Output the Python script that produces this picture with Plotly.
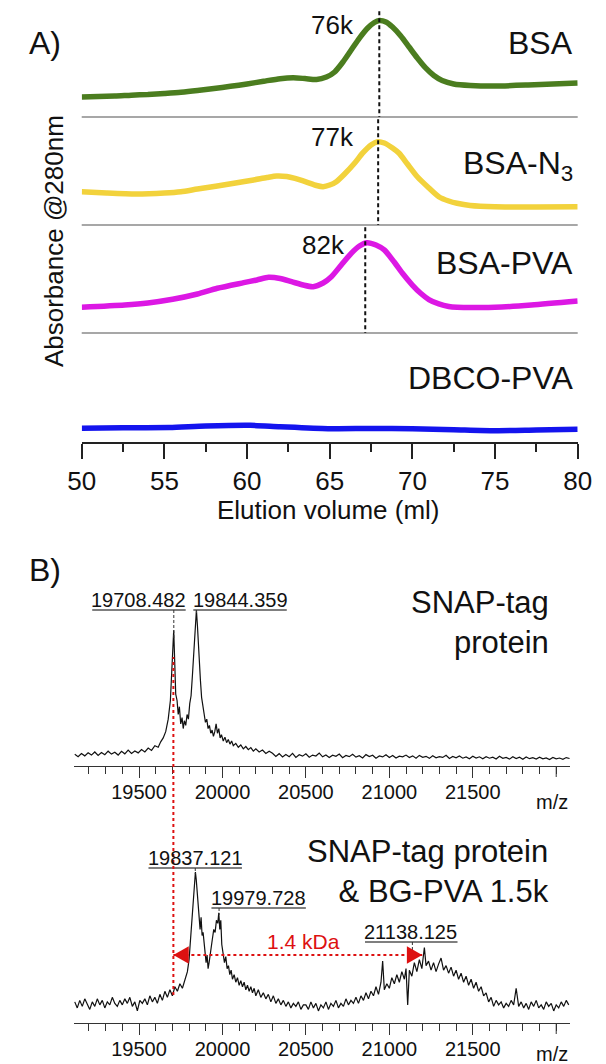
import plotly.graph_objects as go

W, H = 606, 1064
FONT = "Liberation Sans, Arial, sans-serif"

def px(p):
    return p / W

def py(p):
    return 1 - p / H

# ---------------- Panel A: SEC traces (normalised absorbance per band) ----------------
BSA_ML = [50, 51, 52, 53, 54, 55, 56, 57, 58, 59, 60, 61, 62, 62.8, 63.5, 64.2, 64.8, 65.3, 65.8,
          66.3, 66.8, 67.3, 67.7, 68.0, 68.4, 68.8, 69.3, 69.8, 70.3, 70.8, 71.3, 71.8, 72.5,
          73.5, 75, 77, 80]
BSA_ABS = [0.185, 0.190, 0.194, 0.202, 0.208, 0.218, 0.229, 0.245, 0.264, 0.284, 0.306, 0.331,
           0.355, 0.363, 0.356, 0.347, 0.370, 0.417, 0.509, 0.620, 0.731, 0.824, 0.875, 0.894,
           0.880, 0.833, 0.750, 0.648, 0.546, 0.454, 0.384, 0.338, 0.306, 0.292, 0.287, 0.296,
           0.315]

N3_ML = [50, 51.5, 53.3, 55, 56, 57, 58.2, 59.3, 60.4, 61.2, 61.8, 62.4, 62.9, 63.6, 64.2, 64.6,
         65.0, 65.4, 65.9, 66.5, 67.0, 67.5, 67.9, 68.3, 68.8, 69.2, 69.7, 70.3, 71.0, 71.6, 72.2,
         72.7, 73.5, 75, 77.5, 80]
N3_ABS = [0.308, 0.296, 0.287, 0.296, 0.308, 0.333, 0.361, 0.389, 0.417, 0.440, 0.454, 0.449,
          0.432, 0.398, 0.366, 0.355, 0.370, 0.401, 0.472, 0.571, 0.667, 0.741, 0.771, 0.759,
          0.713, 0.664, 0.565, 0.447, 0.343, 0.262, 0.222, 0.201, 0.181, 0.169, 0.167, 0.169]

PVA_ML = [50, 52.6, 54, 55.5, 57, 58.2, 59.8, 60.6, 61.3, 62.0, 62.7, 63.4, 64.0, 64.6, 65.1,
          65.7, 66.3, 66.8, 67.25, 67.8, 68.3, 68.9, 69.4, 70.0, 70.5, 71.0, 71.6, 72.2, 72.7,
          74, 75, 77.2, 80]
PVA_ABS = [0.238, 0.259, 0.278, 0.312, 0.361, 0.414, 0.466, 0.491, 0.516, 0.505, 0.475, 0.444,
           0.429, 0.463, 0.521, 0.630, 0.738, 0.806, 0.836, 0.815, 0.769, 0.657, 0.553, 0.444,
           0.368, 0.310, 0.269, 0.245, 0.238, 0.236, 0.238, 0.259, 0.296]

DBCO_ML = [50, 52.5, 55.3, 57.5, 60.2, 62, 64.9, 67.5, 70, 72.5, 75, 77.5, 80]
DBCO_ABS = [0.125, 0.130, 0.134, 0.147, 0.153, 0.140, 0.122, 0.124, 0.122, 0.113, 0.104, 0.110,
            0.116]

SEC_NAMES = ["BSA", "BSA-N<sub>3</sub>", "BSA-PVA", "DBCO-PVA"]
SEC_COLORS = ["#4b7d1f", "#f2d23c", "#dc18e4", "#1414ee"]
SEC_PEAK_ML = [68.0, 67.93, 67.15]
SEC_PEAK_MW = ["76k", "77k", "82k"]
SEC_TICKS = [50, 55, 60, 65, 70, 75, 80]

# ---------------- Panel B: MALDI spectra (relative intensity, %) ----------------
MS1_MZ = [19115, 19135, 19155, 19175, 19195, 19215, 19235, 19255, 19275, 19295, 19315, 19335,
          19355, 19375, 19395, 19415, 19435, 19455, 19475, 19495, 19515, 19535, 19555, 19575,
          19595, 19615, 19630, 19645, 19660, 19675, 19688, 19698, 19704, 19708, 19713, 19720,
          19728, 19735, 19742, 19750, 19758, 19765, 19772, 19780, 19788, 19796, 19804, 19812,
          19820, 19828, 19836, 19844, 19850, 19856, 19862, 19868, 19875, 19882, 19890, 19898,
          19906, 19914, 19922, 19930, 19938, 19946, 19954, 19962, 19970, 19978, 19986, 19994,
          20005, 20015, 20025, 20035, 20045, 20055, 20065, 20080, 20095, 20110, 20125, 20140,
          20155, 20170, 20185, 20200, 20220, 20240, 20260, 20280,
          20300, 20320, 20340, 20360, 20380, 20400, 20420, 20440, 20460, 20480, 20500, 20520,
          20540, 20560, 20580, 20600, 20620, 20640, 20660, 20680, 20700, 20720, 20740, 20760,
          20780, 20800, 20820, 20840, 20860, 20880, 20900, 20920, 20940, 20960, 20980, 21000,
          21020, 21040, 21060, 21080, 21100, 21120, 21140, 21160, 21180, 21200, 21220, 21240,
          21260, 21280, 21300, 21320, 21340, 21360, 21380, 21400, 21420, 21440, 21460, 21480,
          21500, 21520, 21540, 21560, 21580, 21600, 21620, 21640, 21660, 21680, 21700, 21720,
          21740, 21760, 21780, 21800, 21820, 21840, 21860, 21880, 21900, 21920, 21940, 21960,
          21980, 22000, 22020, 22040, 22060, 22080]
MS1_INT = [7.5, 6.0, 8.0, 6.5, 8.5, 7.0, 9.0, 6.8, 8.7, 7.2, 9.5, 7.6,
           8.8, 7.0, 9.4, 7.8, 10.2, 8.0, 9.6, 8.4, 10.5, 9.0, 11.5, 10.0,
           13.0, 12.0, 15.5, 18.0, 22.0, 30.0, 42.0, 60.0, 78.0, 87.0, 70.0, 46.0,
           42.0, 33.0, 38.0, 27.0, 31.0, 24.0, 29.0, 26.0, 33.0, 30.0, 40.0, 45.0,
           58.0, 75.0, 92.0, 100.0, 90.0, 76.0, 64.0, 55.0, 44.0, 38.0, 33.0, 28.0,
           30.0, 24.0, 26.0, 21.0, 23.0, 19.0, 22.0, 27.0, 21.0, 24.0, 18.0, 20.0,
           16.0, 18.5, 15.0, 17.0, 14.0, 16.0, 13.0, 14.5, 12.0, 13.5, 11.0, 12.5,
           10.5, 11.8, 9.5, 11.0, 9.0, 10.2, 8.0, 9.5,
           8.2, 6.1, 7.9, 5.8, 7.4, 6.0, 8.1, 5.5, 7.2, 6.3, 7.8, 5.6,
           7.0, 6.4, 8.3, 5.9, 7.1, 5.4, 6.9, 6.2, 7.7, 5.3, 6.8, 6.0,
           7.5, 5.7, 6.6, 5.2, 7.3, 6.1, 6.9, 5.0, 6.4, 5.8, 7.2, 5.5,
           6.7, 5.1, 6.3, 5.9, 7.0, 5.4, 6.5, 5.0, 6.8, 5.6, 6.2, 4.9,
           6.6, 5.3, 6.0, 5.5, 6.9, 4.8, 6.1, 5.2, 6.4, 5.0, 5.8, 4.7,
           6.3, 5.1, 5.9, 4.6, 6.0, 5.0, 5.7, 4.5, 6.2, 4.9, 5.5, 4.4,
           5.9, 4.8, 5.6, 4.3, 5.8, 4.7, 5.3, 4.5, 5.7, 4.6, 5.2, 4.2,
           5.5, 4.6, 5.1, 4.3, 5.4, 4.8]

MS2_MZ = [19115, 19130, 19145, 19160, 19175, 19190, 19205, 19220, 19235, 19250, 19265, 19280,
          19295, 19310, 19325, 19340, 19355, 19370, 19385, 19400, 19415, 19430, 19445, 19460,
          19475, 19490, 19505, 19520, 19535, 19550, 19565, 19580, 19595, 19610, 19625, 19640,
          19655, 19670, 19685, 19700, 19715, 19730, 19745, 19760, 19775, 19790, 19800, 19810,
          19818, 19826, 19832, 19838, 19843, 19848, 19854, 19860, 19866, 19872, 19878, 19884,
          19890, 19896, 19902, 19908, 19914, 19920, 19926, 19932, 19940, 19948, 19956, 19964,
          19972, 19978, 19984, 19990, 19996,
          20004, 20012, 20020, 20028, 20036, 20044, 20052, 20060, 20070, 20080, 20090, 20100,
          20110, 20120, 20130, 20140, 20150, 20160, 20170, 20180, 20190, 20200, 20215, 20230,
          20245, 20260, 20275, 20290, 20305, 20320, 20335, 20350, 20365, 20380, 20395, 20410,
          20425, 20440, 20455, 20470, 20485,
          20500, 20515, 20530, 20545, 20560, 20575, 20590, 20605, 20620, 20635, 20650, 20665,
          20680, 20695, 20710, 20725, 20740, 20755, 20770, 20785, 20800, 20815, 20830, 20845,
          20860, 20875, 20890, 20905, 20920, 20935, 20950, 20960, 20970, 20985, 21000, 21015,
          21030, 21045, 21060, 21075, 21090, 21100, 21110, 21120, 21135, 21150, 21165, 21180,
          21195, 21210, 21220, 21235, 21250, 21265, 21280, 21295, 21310, 21325, 21340, 21355,
          21370, 21385, 21400, 21415, 21430, 21445, 21460, 21475, 21490, 21505, 21520, 21535,
          21550, 21565, 21580, 21595, 21610, 21625, 21640, 21655, 21670, 21685, 21700, 21715,
          21730, 21745, 21760, 21775, 21790, 21805, 21820, 21835, 21850, 21865, 21880, 21895,
          21910, 21925, 21940, 21955, 21970, 21985, 22000, 22015, 22030, 22045, 22060, 22075]
MS2_INT = [14, 10, 15, 11, 16, 12, 9, 14, 11, 16, 12, 15,
           10, 14, 12, 17, 13, 11, 15, 12, 16, 13, 17, 11,
           14, 8, 15, 13, 16, 12, 18, 14, 17, 13, 19, 15,
           21, 17, 22, 18, 24, 21, 26, 23, 28, 34, 42, 56,
           68, 82, 92, 100, 95, 88, 80, 72, 62, 70, 58, 60,
           52, 48, 40, 45, 36, 40, 44, 50, 56, 62, 60, 68,
           66, 73, 62, 68, 52,
           46, 40, 44, 36, 38, 32, 35, 29, 32, 27, 30, 25,
           28, 24, 27, 22, 25, 21, 24, 20, 23, 18, 22, 17,
           20, 16, 19, 14, 18, 13, 16, 12, 15, 11, 14, 10,
           13, 11, 14, 9, 12,
           12, 9, 14, 10, 13, 8, 12, 10, 14, 9, 13, 11,
           15, 10, 13, 11, 16, 12, 15, 13, 17, 13, 18, 15,
           20, 16, 21, 18, 24, 19, 27, 41, 22, 26, 23, 30,
           26, 32, 27, 34, 29, 36, 12, 35, 31, 40, 34, 42,
           36, 50, 38, 41, 35, 40, 34, 39, 43, 35, 38, 33,
           37, 31, 35, 29, 33, 27, 31, 25, 29, 23, 27, 21,
           24, 18, 20, 14, 17, 11, 15, 12, 14, 10, 13, 11,
           15, 12, 23, 11, 14, 10, 13, 9, 14, 11, 15, 10,
           12, 9, 14, 11, 13, 8, 12, 10, 14, 11, 15, 12]

MS_TICKS = [19500, 20000, 20500, 21000, 21500]
MS_TICKTEXT = ["19500", "20000", "20500", "21000", "21500"]
MS_UNLABELLED_TICK = 22000
MS1_PEAKS = [19708.482, 19844.359]
MS2_PEAKS = [19837.121, 19979.728, 21138.125]
SHIFT_FROM, SHIFT_TO = 19706, 21197

fig = go.Figure()

sec_data = [(BSA_ML, BSA_ABS), (N3_ML, N3_ABS), (PVA_ML, PVA_ABS), (DBCO_ML, DBCO_ABS)]
yrefs = ["y", "y2", "y3", "y4"]
for (xs, ys), col, yr in zip(sec_data, SEC_COLORS, yrefs):
    fig.add_trace(go.Scatter(x=xs, y=ys, xaxis="x", yaxis=yr, mode="lines",
                             line=dict(color=col, width=5.5, shape="spline", smoothing=0.7),
                             showlegend=False, hoverinfo="skip"))

fig.add_trace(go.Scatter(x=MS1_MZ, y=MS1_INT, xaxis="x2", yaxis="y5", mode="lines",
                         line=dict(color="#111", width=1.2), showlegend=False))
fig.add_trace(go.Scatter(x=MS2_MZ, y=MS2_INT, xaxis="x3", yaxis="y6", mode="lines",
                         line=dict(color="#111", width=1.2), showlegend=False))

band_px = [(117, 9), (225, 117), (333, 225), (442, 333)]
layout_axes = {}
for i, (b, t) in enumerate(band_px):
    key = "yaxis" if i == 0 else f"yaxis{i + 1}"
    layout_axes[key] = dict(domain=[py(b), py(t)], range=[0, 1], visible=False, anchor="x",
                            fixedrange=True)

tickfont_a = dict(family=FONT, size=26, color="#111")
tickfont_b = dict(family=FONT, size=20, color="#111")

layout_axes["xaxis"] = dict(domain=[px(71), px(591)], range=[50, 80], anchor="y4",
                            showline=True, linecolor="#222", linewidth=1.5, ticks="outside",
                            ticklen=15, tickwidth=1.5, tickcolor="#222", tickvals=SEC_TICKS,
                            tickfont=tickfont_a, showgrid=False, zeroline=False,
                            minor=dict(dtick=2.5, tick0=50, ticks="outside", ticklen=8,
                                       tickwidth=1.5, tickcolor="#222", showgrid=False))
for key, anchor in (("xaxis2", "y5"), ("xaxis3", "y6")):
    layout_axes[key] = dict(domain=[px(63), px(583)], range=[19111, 22083], anchor=anchor,
                            showline=True, linecolor="#333", linewidth=1, ticks="outside",
                            ticklen=11, tickwidth=1, tickcolor="#333", tickvals=MS_TICKS,
                            ticktext=MS_TICKTEXT, tickfont=tickfont_b, showgrid=False,
                            zeroline=False, ticklabelstandoff=-3,
                            minor=dict(dtick=100, tick0=19100, ticks="outside", ticklen=7,
                                       tickwidth=1, tickcolor="#333", showgrid=False))
layout_axes["yaxis5"] = dict(domain=[py(766), py(590)], range=[0, 112.8], visible=False,
                             anchor="x2")
layout_axes["yaxis6"] = dict(domain=[py(1023), py(850)], range=[0, 114.6], visible=False,
                             anchor="x3")

shapes = []
# band separators
for yp in (117, 225, 333):
    shapes.append(dict(type="line", xref="paper", yref="paper", x0=px(71), x1=px(591),
                       y0=py(yp), y1=py(yp), line=dict(color="#8a8a8a", width=1.5)))
# peak markers (dashed)
peak_spans = [(-0.03, 1.01), (-0.03, 1.07), (-0.03, 0.98)]
for ml, yr, (a, b) in zip(SEC_PEAK_ML, yrefs, peak_spans):
    shapes.append(dict(type="line", xref="x", yref=yr, x0=ml, x1=ml, y0=a, y1=b,
                       line=dict(color="#111", width=2, dash="4px,3px")))
# unlabelled major tick at 22000 on both m/z axes
for xr, axis_px in (("x2", 766), ("x3", 1023)):
    shapes.append(dict(type="line", xref=xr, yref="paper", x0=MS_UNLABELLED_TICK,
                       x1=MS_UNLABELLED_TICK, y0=py(axis_px), y1=py(axis_px + 11),
                       line=dict(color="#333", width=1)))

annotations = []

def ann(text, x, y, size, xanchor="center", xref="paper", yref="paper", color="#111", **kw):
    annotations.append(dict(text=text, x=x, y=y, xref=xref, yref=yref, showarrow=False,
                            xanchor=xanchor, yanchor="middle",
                            font=dict(family=FONT, size=size, color=color), **kw))

ann("A)", px(14), py(43), 32, xanchor="left")
ann("B)", px(14), py(570), 32, xanchor="left")
label_y = [43, 165, 263, 378]
for name, yp in zip(SEC_NAMES, label_y):
    ann(name, px(588), py(yp), 32, xanchor="right")
mw_pos = [(66.6, 0.85), (66.6, 0.815), (66.05, 0.815)]
for mw, yr, (xx, yy) in zip(SEC_PEAK_MW, yrefs, mw_pos):
    ann(mw, xx, yy, 26, xanchor="right", xref="x", yref=yr)
ann("Absorbance @280nm", px(42), py(241), 26, textangle=-90)
ann("Elution volume (ml)", px(330), py(510), 26)

# Panel B labels
ann("SNAP-tag<br>protein", px(563), py(622), 31, xanchor="right", align="right")
ann("SNAP-tag protein<br>& BG-PVA 1.5k", px(563), py(871), 31, xanchor="right", align="right")
ann("m/z", px(583), py(802), 20, xanchor="right")
ann("m/z", px(583), py(1054), 20, xanchor="right")

peak_labels = [
    (MS1_PEAKS[0], 131, 600, 82, 180, 610, 640),
    (MS1_PEAKS[1], 237, 600, 188, 286, 610, 613),
    (MS2_PEAKS[0], 190, 858, 141, 239, 868, 874),
    (MS2_PEAKS[1], 256, 898, 207, 306, 908, 915),
    (MS2_PEAKS[2], 416, 932, 368, 465, 942, 950),
]
for val, tx, ty, u0, u1, uy, pk in peak_labels:
    ann(f"{val:.3f}", px(tx), py(ty), 20)
    shapes.append(dict(type="line", xref="paper", yref="paper", x0=px(u0), x1=px(u1),
                       y0=py(uy), y1=py(uy), line=dict(color="#555", width=1.5)))
    shapes.append(dict(type="line", xref="x2", yref="paper", x0=val, x1=val, y0=py(uy),
                       y1=py(pk), line=dict(color="#333", width=1, dash="3px,2px")))

# red shift indication
RED = "#dd1111"
shapes.append(dict(type="line", xref="x2", yref="paper", x0=SHIFT_FROM, x1=SHIFT_FROM,
                   y0=py(995), y1=py(657), line=dict(color=RED, width=2, dash="dot")))
ARROW_Y = 45
shapes.append(dict(type="line", xref="x3", yref="y6", x0=SHIFT_FROM, x1=SHIFT_TO,
                   y0=ARROW_Y, y1=ARROW_Y, line=dict(color=RED, width=2, dash="dot")))
shapes.append(dict(type="path", xref="x3", yref="y6",
                   path=f"M {SHIFT_FROM},{ARROW_Y} L {SHIFT_FROM + 92},{ARROW_Y + 5.8} "
                        f"L {SHIFT_FROM + 92},{ARROW_Y - 5.8} Z",
                   fillcolor=RED, line=dict(color=RED, width=0)))
shapes.append(dict(type="path", xref="x3", yref="y6",
                   path=f"M {SHIFT_TO},{ARROW_Y} L {SHIFT_TO - 92},{ARROW_Y + 5.8} "
                        f"L {SHIFT_TO - 92},{ARROW_Y - 5.8} Z",
                   fillcolor=RED, line=dict(color=RED, width=0)))
ann("1.4 kDa", px(304), py(941), 21, color=RED)

fig.update_layout(width=W, height=H, autosize=False, margin=dict(l=0, r=0, t=0, b=0),
                  paper_bgcolor="white", plot_bgcolor="white", showlegend=False,
                  font=dict(family=FONT, color="#111"), shapes=shapes,
                  annotations=annotations, **layout_axes)

fig.write_html("out.html", config={"displayModeBar": False},
               post_script="document.body.style.margin='0';document.body.style.overflow='hidden';")
